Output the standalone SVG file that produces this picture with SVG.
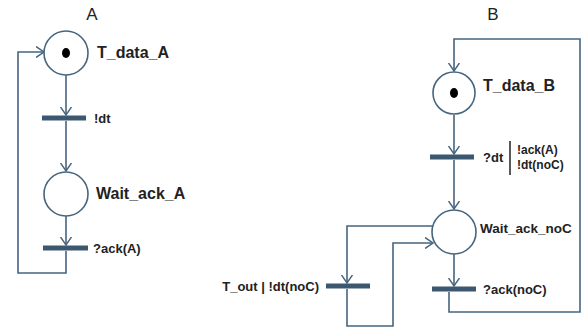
<svg xmlns="http://www.w3.org/2000/svg" width="582" height="328" viewBox="0 0 582 328">
<defs>
<marker id="arr" markerWidth="10" markerHeight="12" refX="8" refY="6" orient="auto" markerUnits="userSpaceOnUse">
<path d="M0,0.5 L8,6 L0,11.5" fill="none" stroke="#46657f" stroke-width="1.5"/>
</marker>
<style>
.place{fill:#fff;stroke:#46657f;stroke-width:1.6}
.tok{fill:#000}
.bar{stroke:#3c5870;stroke-width:5;stroke-linecap:butt}
.edge{fill:none;stroke:#46657f;stroke-width:1.6}
.t{font-family:"Liberation Sans",Arial,sans-serif;font-weight:bold;fill:#222}
.big{font-size:16px}
.mid{font-size:13px}
.sm{font-size:12px}
.title{font-family:"Liberation Sans",Arial,sans-serif;font-size:17px;fill:#222}
</style>
</defs>
<rect width="582" height="328" fill="#fff"/>
<text class="title" x="92" y="20" text-anchor="middle">A</text>
<text class="title" x="493" y="20" text-anchor="middle">B</text>
<g id="connectors">
<path class="edge" d="M66,75 V115" marker-end="url(#arr)"/>
<path class="edge" d="M66,121 V171" marker-end="url(#arr)"/>
<path class="edge" d="M66,216 V245" marker-end="url(#arr)"/>
<path class="edge" d="M66,251 V273 H18 V52 H44" marker-end="url(#arr)"/>
<path class="edge" d="M454,115 V154" marker-end="url(#arr)"/>
<path class="edge" d="M454,160 V209" marker-end="url(#arr)"/>
<path class="edge" d="M454,254 V286" marker-end="url(#arr)"/>
<path class="edge" d="M449,292 V312 H580 V39 H454 V71" marker-end="url(#arr)"/>
<path class="edge" d="M433,226 H347 V283" marker-end="url(#arr)"/>
<path class="edge" d="M347,289 V326 H393 V243 H433" marker-end="url(#arr)"/>
</g>
<g id="T_data_A">
<circle class="place" cx="66" cy="53" r="22"/>
<ellipse class="tok" cx="66" cy="53" rx="4" ry="5"/>
<text class="t big" x="97" y="58">T_data_A</text>
</g>
<g id="t_dt">
<line class="bar" x1="42" y1="118" x2="86" y2="118"/>
<text class="t mid" x="94" y="123">!dt</text>
</g>
<g id="Wait_ack_A">
<circle class="place" cx="66" cy="194" r="22"/>
<text class="t big" x="96" y="199">Wait_ack_A</text>
</g>
<g id="t_ackA">
<line class="bar" x1="43" y1="248" x2="88" y2="248"/>
<text class="t mid" x="93" y="253">?ack(A)</text>
</g>
<g id="T_data_B">
<circle class="place" cx="454" cy="93" r="21"/>
<ellipse class="tok" cx="454" cy="93" rx="4" ry="5"/>
<text class="t big" x="483" y="91">T_data_B</text>
</g>
<g id="t_dtB">
<line class="bar" x1="430" y1="157" x2="474" y2="157"/>
<text class="t mid" x="483" y="162">?dt</text>
<line x1="510" y1="141" x2="510" y2="175" stroke="#222" stroke-width="1.5"/>
<text class="t sm" x="517" y="154">!ack(A)</text>
<text class="t sm" x="517" y="169">!dt(noC)</text>
</g>
<g id="Wait_ack_noC">
<circle class="place" cx="454" cy="232" r="22"/>
<text class="t" style="font-size:13.5px" x="480" y="233">Wait_ack_noC</text>
</g>
<g id="t_out">
<line class="bar" x1="326" y1="286" x2="370" y2="286"/>
<text class="t mid" x="319" y="291" text-anchor="end">T_out | !dt(noC)</text>
</g>
<g id="t_ackNoC">
<line class="bar" x1="432" y1="289" x2="476" y2="289"/>
<text class="t mid" x="483" y="294">?ack(noC)</text>
</g>
</svg>
